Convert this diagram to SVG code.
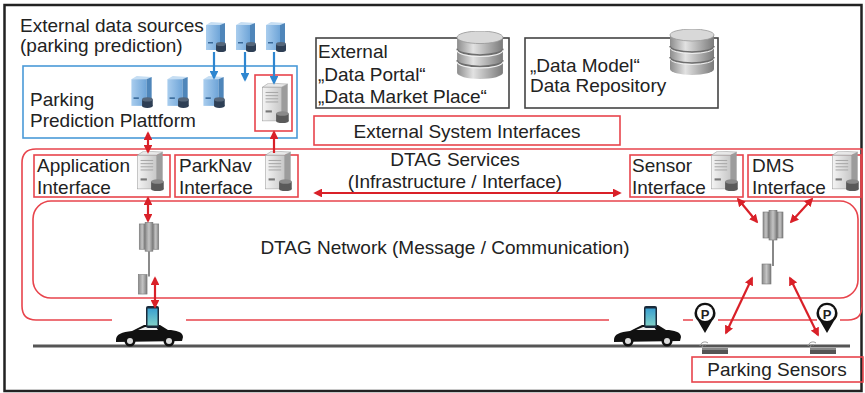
<svg xmlns="http://www.w3.org/2000/svg" width="865" height="393" viewBox="0 0 865 393">
  <style>
    text { font-family: "Liberation Sans", Arial, sans-serif; fill: #222; font-size: 19px; }
    .red { fill: none; stroke: #e8444c; stroke-width: 1.6; }
    .blue { fill: none; stroke: #4a9ad8; stroke-width: 1.6; }
    .box { fill: #fff; stroke: #444; stroke-width: 1.6; }
    .ra { fill: none; stroke: #d92028; stroke-width: 2.2; marker-start: url(#rh); marker-end: url(#rh); }
    .ra1 { fill: none; stroke: #d92028; stroke-width: 2.2; marker-end: url(#rh); }
    .ba { fill: none; stroke: #2e86d0; stroke-width: 2.2; marker-end: url(#bh); }
  </style>
  <defs>
    <marker id="rh" viewBox="0 0 10 10" refX="8" refY="5" markerWidth="4" markerHeight="4" orient="auto-start-reverse">
      <path d="M0,0 L10,5 L0,10 z" fill="#d92028"/>
    </marker>
    <marker id="bh" viewBox="0 0 10 10" refX="8" refY="5" markerWidth="4" markerHeight="4" orient="auto">
      <path d="M0,0 L10,5 L0,10 z" fill="#2e86d0"/>
    </marker>
    <linearGradient id="gFront" x1="0" y1="0" x2="1" y2="0">
      <stop offset="0" stop-color="#f4f4f4"/>
      <stop offset="1" stop-color="#c8c8c8"/>
    </linearGradient>
    <linearGradient id="bFront" x1="0" y1="0" x2="1" y2="0">
      <stop offset="0" stop-color="#a9cdee"/>
      <stop offset="1" stop-color="#6fa5d8"/>
    </linearGradient>
    <linearGradient id="dbGrad" x1="0" y1="0" x2="1" y2="0">
      <stop offset="0" stop-color="#8c8c8c"/>
      <stop offset="0.35" stop-color="#e2e2e2"/>
      <stop offset="1" stop-color="#7a7a7a"/>
    </linearGradient>
    <linearGradient id="towerGrad" x1="0" y1="0" x2="1" y2="0">
      <stop offset="0" stop-color="#8a8a8a"/>
      <stop offset="0.5" stop-color="#c4c4c4"/>
      <stop offset="1" stop-color="#7c7c7c"/>
    </linearGradient>
    <linearGradient id="phoneGrad" x1="0" y1="0" x2="0" y2="1">
      <stop offset="0" stop-color="#3aa0d0"/>
      <stop offset="1" stop-color="#7fd0c8"/>
    </linearGradient>

    <!-- grey tower server with disk -->
    <symbol id="srvGray" viewBox="0 0 30 38">
      <polygon points="4,4 10,0 28,1 22,4" fill="#e8e8e8" stroke="#999" stroke-width="0.5"/>
      <polygon points="22,4 28,1 28,32 22,36" fill="#9c9c9c"/>
      <rect x="4" y="4" width="18" height="32" fill="url(#gFront)" stroke="#999" stroke-width="0.5"/>
      <g stroke="#a8a8a8" stroke-width="1">
        <line x1="7" y1="9" x2="19" y2="9"/><line x1="7" y1="12" x2="19" y2="12"/>
        <line x1="7" y1="15" x2="19" y2="15"/><line x1="7" y1="18" x2="19" y2="18"/>
      </g>
      <rect x="7" y="26" width="6" height="2" fill="#777"/>
      <rect x="17" y="29" width="12" height="7" fill="#5a5a5a"/>
      <ellipse cx="23" cy="29" rx="6" ry="2.2" fill="#8a8a8a"/>
      <ellipse cx="23" cy="36" rx="6" ry="2.2" fill="#5a5a5a"/>
    </symbol>

    <!-- blue tower server with disk -->
    <symbol id="srvBlue" viewBox="0 0 24 30">
      <polygon points="3,3 8,0 22,1 17,3" fill="#c6def3"/>
      <polygon points="17,3 22,1 22,25 17,28" fill="#4f86ba"/>
      <rect x="3" y="3" width="14" height="25" fill="url(#bFront)"/>
      <rect x="5" y="20" width="5" height="1.5" fill="#3a6a9a"/>
      <rect x="13" y="22" width="10" height="6" fill="#2e3f55"/>
      <ellipse cx="18" cy="22" rx="5" ry="2" fill="#55667a"/>
      <ellipse cx="18" cy="28" rx="5" ry="2" fill="#2e3f55"/>
    </symbol>

    <!-- database cylinder -->
    <symbol id="db" viewBox="0 0 48 46">
      <path d="M2,6 L2,40 A22,6 0 0 0 46,40 L46,6 Z" fill="url(#dbGrad)"/>
      <ellipse cx="24" cy="6" rx="22" ry="6" fill="#d8d8d8" stroke="#999" stroke-width="0.8"/>
      <path d="M2,17 A22,6 0 0 0 46,17 M2,28 A22,6 0 0 0 46,28" fill="none" stroke="#6e6e6e" stroke-width="1.6"/>
      <path d="M2,18.5 A22,6 0 0 0 46,18.5 M2,29.5 A22,6 0 0 0 46,29.5" fill="none" stroke="#f0f0f0" stroke-width="1"/>
    </symbol>

    <!-- antenna mast -->
    <symbol id="tower" viewBox="0 0 24 76">
      <rect x="2" y="2" width="6" height="26" fill="url(#towerGrad)" stroke="#777" stroke-width="0.6"/>
      <rect x="16" y="2" width="6" height="26" fill="url(#towerGrad)" stroke="#777" stroke-width="0.6"/>
      <rect x="8" y="0" width="8" height="30" fill="url(#towerGrad)" stroke="#777" stroke-width="0.6"/>
      <line x1="12" y1="30" x2="12" y2="56" stroke="#888" stroke-width="2"/>
      <rect x="1" y="54" width="9" height="20" fill="url(#towerGrad)" stroke="#777" stroke-width="0.6"/>
    </symbol>

    <!-- car with phone on top -->
    <symbol id="car" viewBox="0 0 70 42">
      <path d="M2,34 C2,28 8,26 18,25 L30,19 L46,19 L54,24 C62,24 69,26 69,31 L68,35 L2,36 Z" fill="#111"/>
      <path d="M24,24 L31,21 L42,21 L44,24 Z" fill="#eee"/>
      <circle cx="16" cy="35" r="5.5" fill="#111"/>
      <circle cx="16" cy="35" r="3" fill="#ddd"/>
      <circle cx="55" cy="35" r="5.5" fill="#111"/>
      <circle cx="55" cy="35" r="3" fill="#ddd"/>
      <rect x="32" y="0" width="13" height="22" rx="2" fill="#1a2a3a"/>
      <rect x="33.5" y="2.5" width="10" height="17" fill="url(#phoneGrad)"/>
    </symbol>

    <!-- parking location pin -->
    <symbol id="pin" viewBox="0 0 24 32">
      <path d="M12,31 L5,19 A10.5,10.5 0 1 1 19,19 Z" fill="#111"/>
      <circle cx="12" cy="11" r="8" fill="#fff"/>
    </symbol>

    <!-- in-road parking sensor -->
    <symbol id="sensor" viewBox="0 0 34 16">
      <path d="M3,6 A5,5 0 0 1 11,3 M5,7 A3,3 0 0 1 9,5" fill="none" stroke="#999" stroke-width="1"/>
      <rect x="5" y="8" width="26" height="6" fill="#555"/>
      <rect x="5" y="8" width="26" height="2" fill="#888"/>
    </symbol>
  </defs>

  <rect width="865" height="393" fill="#fff"/>
  <!-- outer frame -->
  <rect x="4.5" y="5" width="857" height="386" fill="none" stroke="#222" stroke-width="2.5"/>

  <!-- DTAG service and network areas -->
  <g id="dtag-services">
    <path class="red" d="M112,320 L36,320 Q22,320 22,306 L22,163 Q22,149 36,149 L862,149 L862,306 Q862,320 848,320 L840,320 M817,320 L718,320 M693,320 L683,320 M609,320 L186,320"/>
    <text x="455" y="166" text-anchor="middle">DTAG Services</text>
    <text x="455" y="188" text-anchor="middle">(Infrastructure / Interface)</text>
  </g>
  <g id="dtag-network">
    <rect class="red" x="33" y="201" width="825" height="97" rx="18"/>
    <text x="445" y="254" text-anchor="middle">DTAG Network (Message / Communication)</text>
  </g>

  <!-- external sources -->
  <g id="external-sources">
    <text x="20" y="32">External data sources</text>
    <text x="20" y="52">(parking prediction)</text>
    <use href="#srvBlue" x="203" y="22" width="24" height="30"/>
    <use href="#srvBlue" x="233" y="22" width="24" height="30"/>
    <use href="#srvBlue" x="263" y="22" width="24" height="30"/>
  </g>

  <g id="prediction-platform">
    <rect class="blue" x="23" y="66" width="274" height="72"/>
    <text x="30" y="106">Parking</text>
    <text x="30" y="127">Prediction Plattform</text>
    <use href="#srvBlue" x="128" y="76" width="26" height="32"/>
    <use href="#srvBlue" x="164" y="76" width="26" height="32"/>
    <use href="#srvBlue" x="200" y="76" width="26" height="32"/>
    <rect class="red" x="255" y="75" width="37" height="56"/>
    <use href="#srvGray" x="258" y="83" width="32" height="40"/>
  </g>

  <g id="external-portal">
    <rect class="box" x="316" y="38" width="193" height="70"/>
    <text x="318" y="58">External</text>
    <text x="318" y="81">„Data Portal“</text>
    <text x="318" y="103">„Data Market Place“</text>
    <use href="#db" x="455" y="31" width="50" height="48"/>
  </g>

  <g id="data-repository">
    <rect class="box" x="525" y="38" width="193" height="70"/>
    <text x="530" y="72">„Data Model“</text>
    <text x="530" y="92">Data Repository</text>
    <use href="#db" x="668" y="29" width="48" height="46"/>
  </g>

  <g id="external-interfaces">
    <rect class="red" x="314" y="116" width="306" height="29"/>
    <text x="467" y="138" text-anchor="middle">External System Interfaces</text>
  </g>

  <g id="application-interface">
    <rect class="red" x="34" y="155" width="136" height="42"/>
    <text x="37" y="172">Application</text>
    <text x="37" y="194">Interface</text>
    <use href="#srvGray" x="133" y="151" width="32" height="40"/>
  </g>

  <g id="parknav-interface">
    <rect class="red" x="175" y="155" width="123" height="42"/>
    <text x="179" y="172">ParkNav</text>
    <text x="179" y="194">Interface</text>
    <use href="#srvGray" x="261" y="151" width="32" height="40"/>
  </g>

  <g id="sensor-interface">
    <rect class="red" x="630" y="155" width="113" height="42"/>
    <text x="632" y="172">Sensor</text>
    <text x="632" y="194">Interface</text>
    <use href="#srvGray" x="707" y="151" width="32" height="40"/>
  </g>

  <g id="dms-interface">
    <rect class="red" x="748" y="155" width="113" height="42"/>
    <text x="752" y="172">DMS</text>
    <text x="752" y="194">Interface</text>
    <use href="#srvGray" x="828" y="151" width="32" height="40"/>
  </g>

  <g id="tower-left">
    <use href="#tower" x="137" y="222" width="24" height="74"/>
  </g>
  <g id="tower-right">
    <use href="#tower" x="761" y="210" width="24" height="76"/>
  </g>

  <g id="road">
    <line x1="33" y1="346" x2="850" y2="346" stroke="#555" stroke-width="3"/>
  </g>

  <g id="car-left">
    <use href="#car" x="114" y="306" width="70" height="42"/>
  </g>
  <g id="car-right">
    <use href="#car" x="612" y="306" width="70" height="42"/>
  </g>

  <g id="parking-pins">
    <use href="#pin" x="693" y="302" width="24" height="32"/>
    <text x="705" y="319" text-anchor="middle" font-weight="bold" style="font-size:13px">P</text>
    <use href="#pin" x="815" y="302" width="24" height="32"/>
    <text x="827" y="319" text-anchor="middle" font-weight="bold" style="font-size:13px">P</text>
  </g>

  <g id="parking-sensors">
    <use href="#sensor" x="697" y="340" width="34" height="16"/>
    <use href="#sensor" x="805" y="340" width="34" height="16"/>
    <rect class="red" x="692" y="357" width="171" height="25"/>
    <text x="777" y="376" text-anchor="middle">Parking Sensors</text>
  </g>

  <!-- connectors -->
  <g id="connectors">
    <path class="ba" d="M214,52 L214,78"/>
    <path class="ba" d="M245,52 L245,80"/>
    <path class="ba" d="M274,52 L274,83"/>
    <path class="ra" d="M148,133 L148,152"/>
    <path class="ra1" d="M274,153 L274,132"/>
    <path class="ra" d="M148,198 L148,221"/>
    <path class="ra" d="M155,278 L155,307"/>
    <path class="ra" d="M315,193 L620,193"/>
    <path class="ra" d="M738,199 L757,222"/>
    <path class="ra" d="M812,199 L791,222"/>
    <path class="ra" d="M752,278 L726,333"/>
    <path class="ra" d="M790,278 L818,335"/>
  </g>
</svg>
